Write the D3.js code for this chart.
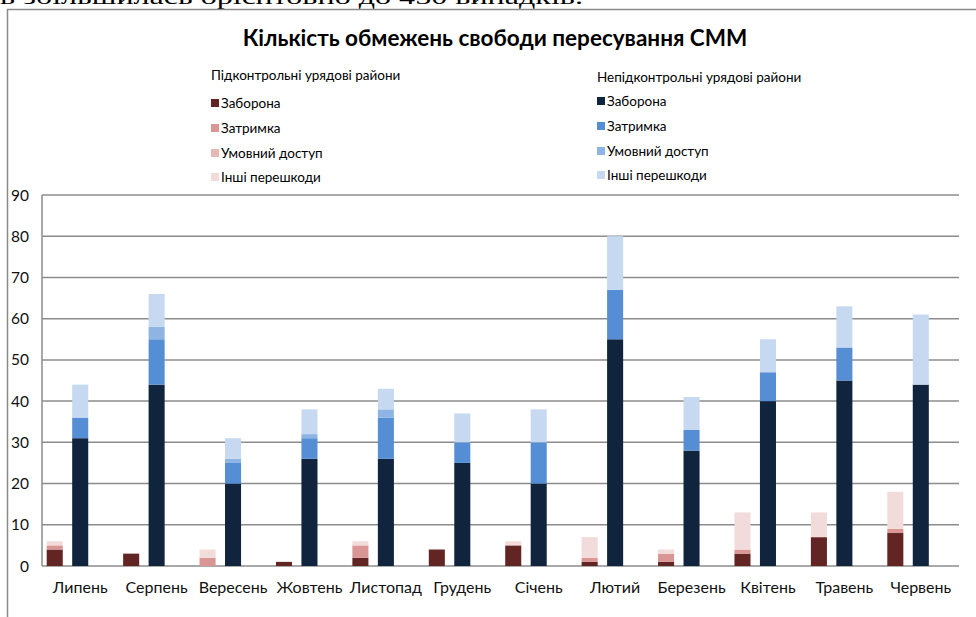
<!DOCTYPE html>
<html>
<head>
<meta charset="utf-8">
<script src="https://cdn.jsdelivr.net/npm/d3@7"></script>
<style>
  html, body { margin: 0; padding: 0; background: #fff; }
  svg { display: block; font-family: Lato, "Open Sans", sans-serif; }
</style>
</head>
<body>
<svg id="chart" width="976" height="617"></svg>
<script>
// months on the x axis
const months = ["Липень", "Серпень", "Вересень", "Жовтень", "Листопад", "Грудень",
                "Січень", "Лютий", "Березень", "Квітень", "Травень", "Червень"]

// government-controlled areas
const ctrlBan   = [4, 3, 0, 1, 2, 4, 5, 1, 1, 3, 7, 8]
const ctrlDelay = [1, 0, 2, 0, 3, 0, 0, 1, 2, 1, 0, 1]
const ctrlCond  = [0, 0, 0, 0, 0, 0, 0, 0, 0, 0, 0, 0]
const ctrlOther = [1, 0, 2, 0, 1, 0, 1, 5, 1, 9, 6, 9]

// non-government-controlled areas
const nonBan   = [31, 44, 20, 26, 26, 25, 20, 55, 28, 40, 45, 44]
const nonDelay = [5, 11, 5, 5, 10, 5, 10, 12, 5, 7, 8, 0]
const nonCond  = [0, 3, 1, 1, 2, 0, 0, 0, 0, 0, 0, 0]
const nonOther = [8, 8, 5, 6, 5, 7, 8, 13, 8, 8, 10, 17]

const yTicks = [0, 10, 20, 30, 40, 50, 60, 70, 80, 90]
const keyNames = ["Заборона", "Затримка", "Умовний доступ", "Інші перешкоди"]
const keys = ["ban", "delay", "cond", "other"]

const ctrlColors = ["#632523", "#d99694", "#e6b9b8", "#f2dcdb"]
const nonColors  = ["#10243e", "#558ed5", "#8eb4e3", "#c6d9f1"]

const svg = d3.select("#chart")
const plotL = 42, plotR = 959, plotT = 195, plotB = 566

function rows(a, b, c, d) {
    return months.map((m, i) => ({ month: m, ban: a[i], delay: b[i], cond: c[i], other: d[i] }))
}
const ctrlData = rows(ctrlBan, ctrlDelay, ctrlCond, ctrlOther)
const nonData = rows(nonBan, nonDelay, nonCond, nonOther)

const x = d3.scaleBand().domain(months).range([plotL, plotR])
const slot = d3.scaleBand().domain(["ctrl", "non", "gap"])
    .range([0, x.bandwidth()]).paddingInner(0.37).paddingOuter(0.185)
const y = d3.scaleLinear().domain([0, 90]).range([plotB, plotT])

// text of the document above the chart, cut off by the frame
svg.append("text")
    .attr("x", 0).attr("y", 4)
    .attr("textLength", 583).attr("lengthAdjust", "spacingAndGlyphs")
    .style("font-family", "'Liberation Serif', serif")
    .style("font-size", "22px")
    .text("в збільшилась орієнтовно до 450 випадків.")

// chart frame
svg.append("path")
    .attr("d", "M7.5,617 V9.5 H976")
    .attr("fill", "none").attr("stroke", "#8a8a8a").attr("stroke-width", 1.5)

// gridlines
svg.append("g").selectAll("line").data(yTicks).join("line")
    .attr("x1", plotL).attr("x2", plotR)
    .attr("y1", d => y(d)).attr("y2", d => y(d))
    .attr("stroke", "#8c8c8c").attr("stroke-width", 1.5)

svg.append("line")
    .attr("x1", plotL).attr("x2", plotL).attr("y1", plotT).attr("y2", plotB)
    .attr("stroke", "#8c8c8c").attr("stroke-width", 1.5)

// y axis labels
svg.append("g").selectAll("text").data(yTicks).join("text")
    .attr("x", 29).attr("y", d => y(d) + 5.5)
    .attr("text-anchor", "end")
    .style("font-size", "15.5px").style("fill", "#111")
    .text(d => d)

// x axis labels
svg.append("g").selectAll("text").data(months).join("text")
    .attr("x", d => x(d) + slot("non") + slot.bandwidth() / 2)
    .attr("y", 593)
    .attr("text-anchor", "middle")
    .style("font-size", "16px").style("fill", "#111")
    .text(d => d)

const stack = d3.stack().keys(keys)

function drawBars(data, pos, colors) {
    svg.append("g").selectAll("g").data(stack(data)).join("g")
        .attr("fill", (d, i) => colors[i])
        .selectAll("rect").data(d => d).join("rect")
        .attr("x", d => x(d.data.month) + slot(pos))
        .attr("width", slot.bandwidth())
        .attr("y", d => y(d[1]))
        .attr("height", d => y(d[0]) - y(d[1]))
}
drawBars(ctrlData, "ctrl", ctrlColors)
drawBars(nonData, "non", nonColors)

// title
svg.append("text")
    .attr("x", 495).attr("y", 46)
    .attr("text-anchor", "middle")
    .style("font-size", "22.5px").style("font-weight", "bold")
    .text("Кількість обмежень свободи пересування СММ")

// legends
function legend(x0, headY, itemYs, header, colors) {
    const g = svg.append("g")
    g.append("text").attr("x", x0).attr("y", headY)
        .style("font-size", "13.5px").text(header)
    itemYs.forEach((iy, i) => {
        g.append("rect").attr("x", x0).attr("y", iy - 4).attr("width", 8).attr("height", 8)
            .attr("fill", colors[i])
        g.append("text").attr("x", x0 + 10).attr("y", iy + 5)
            .style("font-size", "13.5px").text(keyNames[i])
    })
}
legend(211, 80, [103, 128, 153, 177], "Підконтрольні урядові райони", ctrlColors)
legend(597, 82, [101, 126, 151, 175], "Непідконтрольні урядові райони", nonColors)
</script>
</body>
</html>
